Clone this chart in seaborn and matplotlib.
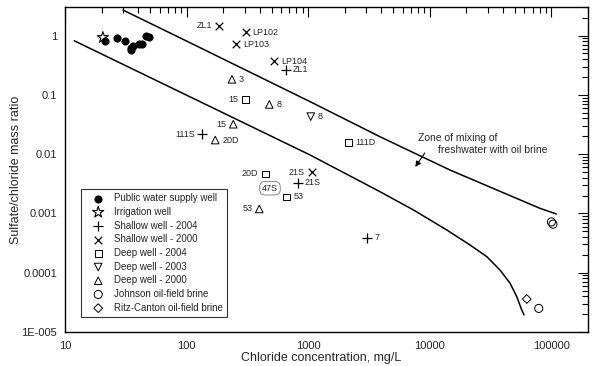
import matplotlib
matplotlib.use("Agg")
import matplotlib.pyplot as plt
import seaborn as sns
import pandas as pd
from matplotlib.ticker import LogLocator, NullFormatter

sns.set_style("white")
plt.rcParams['font.family'] = ['Liberation Sans', 'DejaVu Sans']

# values (chloride mg/L, sulfate/chloride ratio)
public_cl = [21.5, 26.8, 31.1, 34.6, 36.2, 35.0, 40.6, 43.0, 46.4, 49.1]
public_ratio = [0.81, 0.91, 0.82, 0.62, 0.66, 0.58, 0.72, 0.72, 1.0, 0.95]

irrig_cl = [20.5]
irrig_ratio = [0.93]

shallow04_cl = [656, 133, 820, 3060]
shallow04_ratio = [0.263, 0.0216, 0.0033, 0.00039]
shallow04_names = ['ZL1', '111S', '21S', '7']

shallow00_cl = [184.5, 306, 255, 524, 1069]
shallow00_ratio = [1.47, 1.14, 0.71, 0.37, 0.00494]
shallow00_names = ['ZL1', 'LP102', 'LP103', 'LP104', '21S']

deep04_cl = [306, 2150, 444, 665]
deep04_ratio = [0.084, 0.0156, 0.00464, 0.0019]
deep04_names = ['15', '111D', '20D', '53']

deep03_cl = [1050]
deep03_ratio = [0.043]
deep03_names = ['8']

deep00_cl = [236, 479, 242, 172, 396]
deep00_ratio = [0.183, 0.069, 0.032, 0.0173, 0.00119]
deep00_names = ['3', '8', '15', '20D', '53']

johnson_cl = [100000, 103000, 78700]
johnson_ratio = [0.00072, 0.00066, 0.000025]

ritz_cl = [62700]
ritz_ratio = [0.000036]

# mixing envelope lines
upper_cl = [30, 88, 1035, 3890, 14660, 80500, 110000]
upper_ratio = [2.7, 0.92, 0.077, 0.0197, 0.0054, 0.00122, 0.00098]
lower_cl = [11.9, 1035, 3890, 7310, 13770, 21400, 29400, 37800, 45700, 51900, 57000, 59600]
lower_ratio = [0.82, 0.0097, 0.00233, 0.00115, 0.000527, 0.000294, 0.000187,
               0.000111, 0.0000665, 0.0000395, 0.0000236, 0.0000194]

xtick_vals = [10, 100, 1000, 10000, 100000]
xtick_labels = ['10', '100', '1000', '10000', '100000']
ytick_vals = [1e-5, 1e-4, 1e-3, 1e-2, 1e-1, 1]
ytick_labels = ['1E-005', '0.0001', '0.001', '0.01', '0.1', '1']

groups = [
    ('Public water supply well', public_cl, public_ratio, None),
    ('Irrigation well', irrig_cl, irrig_ratio, None),
    ('Shallow well - 2004', shallow04_cl, shallow04_ratio, shallow04_names),
    ('Shallow well - 2000', shallow00_cl, shallow00_ratio, shallow00_names),
    ('Deep well - 2004', deep04_cl, deep04_ratio, deep04_names),
    ('Deep well - 2003', deep03_cl, deep03_ratio, deep03_names),
    ('Deep well - 2000', deep00_cl, deep00_ratio, deep00_names),
    ('Johnson oil-field brine', johnson_cl, johnson_ratio, None),
    ('Ritz-Canton oil-field brine', ritz_cl, ritz_ratio, None),
]

styles = {
    'Public water supply well': dict(marker='o', facecolor='black', edgecolor='black', s=28, linewidth=0.5),
    'Irrigation well': dict(marker='*', facecolor='none', edgecolor='black', s=70, linewidth=0.8),
    'Shallow well - 2004': dict(marker='+', s=45, linewidth=0.9),
    'Shallow well - 2000': dict(marker='x', s=30, linewidth=0.9),
    'Deep well - 2004': dict(marker='s', facecolor='none', edgecolor='black', s=24, linewidth=0.7),
    'Deep well - 2003': dict(marker='v', facecolor='none', edgecolor='black', s=30, linewidth=0.7),
    'Deep well - 2000': dict(marker='^', facecolor='none', edgecolor='black', s=30, linewidth=0.7),
    'Johnson oil-field brine': dict(marker='o', facecolor='none', edgecolor='black', s=34, linewidth=0.7),
    'Ritz-Canton oil-field brine': dict(marker='D', facecolor='none', edgecolor='black', s=20, linewidth=0.7),
}

# which side of the marker each well name sits on
label_side = {
    'Shallow well - 2004': ['r', 'l', 'r', 'r'],
    'Shallow well - 2000': ['l', 'r', 'r', 'r', 'l'],
    'Deep well - 2004': ['l', 'r', 'l', 'r'],
    'Deep well - 2003': ['r'],
    'Deep well - 2000': ['r', 'r', 'l', 'r', 'l'],
}

rows = []
for grp, xs, ys, names in groups:
    for i, (xv, yv) in enumerate(zip(xs, ys)):
        rows.append(dict(group=grp, chloride=xv, ratio=yv,
                         name=names[i] if names else ''))
df = pd.DataFrame(rows)

fig = plt.figure(figsize=(6, 3.66), dpi=100)
ax = fig.add_axes([0.1083, 0.0929, 0.8717, 0.8871])
ax.set_xscale('log')
ax.set_yscale('log')

sns.lineplot(x=upper_cl, y=upper_ratio, ax=ax, color='black', linewidth=1.1,
             sort=False, estimator=None)
sns.lineplot(x=lower_cl, y=lower_ratio, ax=ax, color='black', linewidth=1.1,
             sort=False, estimator=None)

for grp, _, _, _ in groups:
    sub = df[df['group'] == grp]
    sns.scatterplot(data=sub, x='chloride', y='ratio', ax=ax, color='black',
                    label=grp, zorder=3, **styles[grp])
    if grp in label_side:
        for (_, r), side in zip(sub.iterrows(), label_side[grp]):
            dx = 5 if side == 'r' else -5
            ax.annotate(r['name'], (r['chloride'], r['ratio']), xytext=(dx, 0),
                        textcoords='offset points', ha='left' if side == 'r' else 'right',
                        va='center', fontsize=6.5)

ax.text(485, 0.00266, '47S', fontsize=6.5, ha='center', va='center',
        bbox=dict(boxstyle='round,pad=0.25,rounding_size=0.6', fc='none', ec='#777777', lw=0.6))

ax.text(8000, 0.0187, 'Zone of mixing of', fontsize=7.5, ha='left', va='center')
ax.text(11670, 0.0118, 'freshwater with oil brine', fontsize=7.5, ha='left', va='center')
ax.annotate('', xy=(7600, 0.0061), xytext=(9100, 0.0105),
            arrowprops=dict(arrowstyle='-|>', color='black', lw=0.8,
                            mutation_scale=8, shrinkA=0, shrinkB=0))

ax.set_xlim(10, 200000)
ax.set_ylim(1e-5, 3)
ax.set_xticks(xtick_vals)
ax.set_xticklabels(xtick_labels)
ax.set_yticks(ytick_vals)
ax.set_yticklabels(ytick_labels)
for axis in (ax.xaxis, ax.yaxis):
    axis.set_minor_locator(LogLocator(base=10, subs=range(2, 10), numticks=20))
    axis.set_minor_formatter(NullFormatter())

ax.tick_params(which='both', direction='in', top=True, right=True, color='black', width=0.8)
ax.tick_params(which='major', length=7, labelsize=8)
ax.tick_params(which='minor', length=4)
ax.tick_params(axis='x', which='major', pad=6.5)
ax.tick_params(axis='y', which='major', pad=5.5)
for sp in ax.spines.values():
    sp.set_color('black')
    sp.set_linewidth(1.0)

ax.set_xlabel('Chloride concentration, mg/L', fontsize=9)
ax.set_ylabel('Sulfate/chloride mass ratio', fontsize=9)
ax.xaxis.set_label_coords(0.49, -0.062)
ax.yaxis.set_label_coords(-0.082, 0.5)

leg = ax.legend(loc='lower left', bbox_to_anchor=(0.031, 0.046), fontsize=7,
                frameon=True, fancybox=False, edgecolor='black', scatterpoints=1,
                borderpad=0.45, handlelength=2.6, handletextpad=0.3,
                labelspacing=0.38, borderaxespad=0)
leg.get_frame().set_linewidth(0.8)

fig.savefig('out.png', dpi=100)
